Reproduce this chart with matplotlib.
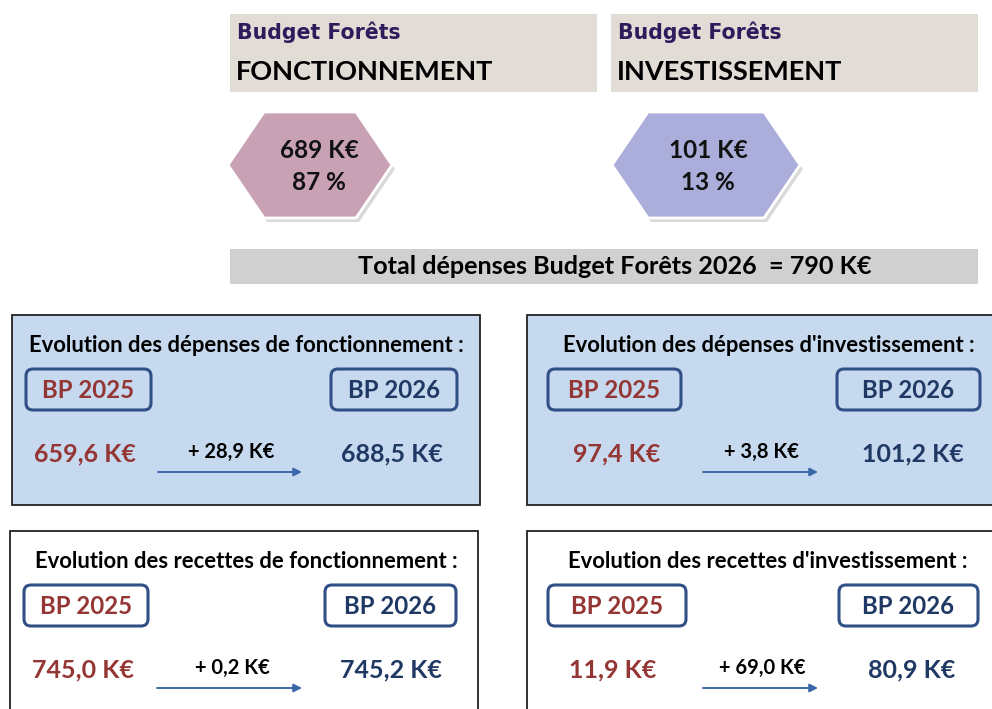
import matplotlib.pyplot as plt
from matplotlib.patches import Rectangle, FancyBboxPatch, Polygon

# donnees
header_subtitle = "Budget Forêts"
header_titles = ["FONCTIONNEMENT", "INVESTISSEMENT"]
hex_amounts = [689, 101]          # K€
hex_percents = [87, 13]           # %
total_label = "Total dépenses Budget Forêts 2026  = 790 K€"

panel_titles = ["Evolution des dépenses de fonctionnement :",
                "Evolution des dépenses d'investissement :",
                "Evolution des recettes de fonctionnement :",
                "Evolution des recettes d'investissement :"]
bp_labels = ["BP 2025", "BP 2026"]
bp2025 = [659.6, 97.4, 745.0, 11.9]
bp2026 = [688.5, 101.2, 745.2, 80.9]
deltas = [28.9, 3.8, 0.2, 69.0]

FONT = ["Lato", "DejaVu Sans"]
RED = "#943634"
NAVY = "#1f3864"
BORDER = "#2f4f86"


def fr(v):
    return "{:.1f}".format(v).replace(".", ",") + " K€"


fig = plt.figure(figsize=(9.92, 7.09), dpi=100)
ax = fig.add_axes([0, 0, 1, 1])
ax.set_xlim(0, 992)
ax.set_ylim(709, 0)
ax.axis("off")

# en-tetes
for i, x0 in enumerate([230, 611]):
    ax.add_patch(Rectangle((x0, 14), 367, 78, facecolor="#e2dcd6", edgecolor="none"))
    ax.text(x0 + 7, 32, header_subtitle, fontsize=14.8, fontweight="bold",
            family=["DejaVu Sans"], color="#2d1b5c", va="center")
    ax.text(x0 + 6, 72, header_titles[i], fontsize=19.5, fontweight="bold",
            family=FONT, color="black", va="center")

# hexagones (bords gauche/droit et centre du texte)
hex_colors = ["#c9a1b5", "#abaedb"]
hex_geom = [(228, 392, 319), (612, 800, 708)]
for i, (xl, xr, xc) in enumerate(hex_geom):
    yt, yb = 112, 218
    ym = (yt + yb) / 2
    d = 36
    pts = [(xl, ym), (xl + d, yt), (xr - d, yt), (xr, ym), (xr - d, yb), (xl + d, yb)]
    sh = [(px + 3, py + 4) for px, py in pts]
    ax.add_patch(Polygon(sh, closed=True, facecolor="#d9d9d9", edgecolor="none"))
    ax.add_patch(Polygon(pts, closed=True, facecolor=hex_colors[i],
                         edgecolor="white", linewidth=2))
    ax.text(xc, 151, "{} K€".format(hex_amounts[i]), fontsize=17.5, fontweight="bold",
            family=FONT, ha="center", va="center", color="#111111")
    ax.text(xc, 183, "{} %".format(hex_percents[i]), fontsize=17.5, fontweight="bold",
            family=FONT, ha="center", va="center", color="#111111")

# total
ax.add_patch(Rectangle((230, 249), 748, 35, facecolor="#d0d0d0", edgecolor="none"))
ax.text(615, 267, total_label, fontsize=18.2, fontweight="bold", family=FONT,
        ha="center", va="center", color="black")

# panneaux
panels = [
    # cadre, fond, centre titre, boites BP, positions des valeurs et de la fleche
    dict(x=12, y=315, w=468, h=190, bg="#c6d9ee", tx=246, b1=(26, 151), b2=(331, 457),
         v1=85, dx=231, ar=(158, 302), v2=392),
    dict(x=527, y=315, w=470, h=190, bg="#c6d9ee", tx=769, b1=(548, 681), b2=(837, 980),
         v1=617, dx=761, ar=(703, 818), v2=913),
    dict(x=10, y=531, w=468, h=190, bg="white", tx=246, b1=(24, 148), b2=(325, 456),
         v1=83, dx=232, ar=(157, 302), v2=391),
    dict(x=527, y=531, w=470, h=190, bg="white", tx=768, b1=(548, 686), b2=(839, 978),
         v1=613, dx=762, ar=(703, 818), v2=912),
]

for i, p in enumerate(panels):
    ax.add_patch(Rectangle((p["x"], p["y"]), p["w"], p["h"], facecolor=p["bg"],
                           edgecolor="#222222", linewidth=1.3))
    ax.text(p["tx"], p["y"] + 30, panel_titles[i], fontsize=15.8, fontweight="bold",
            family=FONT, ha="center", va="center", color="black")
    by = p["y"] + 54
    for j, (b, col) in enumerate([(p["b1"], RED), (p["b2"], NAVY)]):
        ax.add_patch(FancyBboxPatch((b[0], by), b[1] - b[0], 41,
                                    boxstyle="round,pad=0,rounding_size=7",
                                    facecolor="none", edgecolor=BORDER, linewidth=2.2))
        ax.text((b[0] + b[1]) / 2, by + 21, bp_labels[j], fontsize=17.3, fontweight="bold",
                family=FONT, ha="center", va="center", color=col)
    vy = p["y"] + 139
    ax.text(p["v1"], vy, fr(bp2025[i]), fontsize=18, fontweight="bold", family=FONT,
            ha="center", va="center", color=RED)
    ax.text(p["v2"], vy, fr(bp2026[i]), fontsize=18, fontweight="bold", family=FONT,
            ha="center", va="center", color=NAVY)
    ax.text(p["dx"], vy - 2, "+ " + fr(deltas[i]), fontsize=14.5, fontweight="bold",
            family=FONT, ha="center", va="center", color="black")
    ay = p["y"] + 157
    ax.annotate("", xy=(p["ar"][1], ay), xytext=(p["ar"][0], ay),
                arrowprops=dict(arrowstyle="-|>", color="#3a68a8", lw=1.4,
                                mutation_scale=12, shrinkA=0, shrinkB=0))

fig.savefig("out.png", dpi=100, facecolor="white")
